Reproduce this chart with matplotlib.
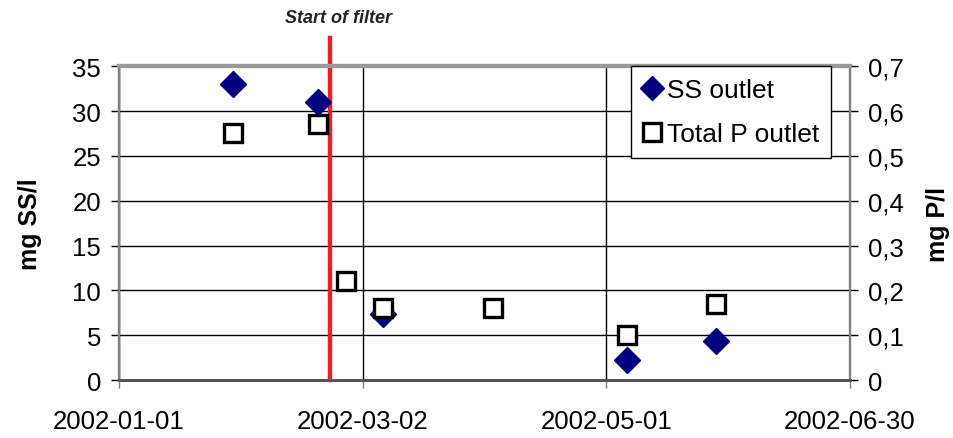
import matplotlib
matplotlib.use("Agg")
import matplotlib.pyplot as plt
import matplotlib.dates as mdates
import numpy as np

plt.rcParams['font.family'] = ['Liberation Sans', 'DejaVu Sans']

# data
ss_dates = np.array(['2002-01-29', '2002-02-19', '2002-03-07', '2002-05-06', '2002-05-28'], dtype='datetime64[D]')
ss_vals = [33.0, 31.0, 7.4, 2.2, 4.3]
p_dates = np.array(['2002-01-29', '2002-02-19', '2002-02-26', '2002-03-07',
                    '2002-04-03', '2002-05-06', '2002-05-28'], dtype='datetime64[D]')
p_vals = [0.55, 0.57, 0.22, 0.16, 0.16, 0.10, 0.17]
filter_start = np.datetime64('2002-02-22')
x_ticks = np.array(['2002-01-01', '2002-03-02', '2002-05-01', '2002-06-30'], dtype='datetime64[D]')
ss_ticks = [0, 5, 10, 15, 20, 25, 30, 35]
p_ticks = [0, 0.1, 0.2, 0.3, 0.4, 0.5, 0.6, 0.7]

fig = plt.figure(figsize=(9.54, 4.39), dpi=100)
ax = fig.add_axes([0.1247, 0.132, 0.7663, 0.715])
ax2 = ax.twinx()

ax.set_xlim(x_ticks[0], x_ticks[-1])
ax.set_ylim(0, 35)
ax2.set_ylim(0, 0.7)

ax.set_xticks(x_ticks)
ax.xaxis.set_major_formatter(mdates.DateFormatter('%Y-%m-%d'))
ax.set_yticks(ss_ticks)
ax2.set_yticks(p_ticks)
ax2.set_yticklabels([('%g' % v).replace('.', ',') for v in p_ticks])

ax.grid(True, color='black', linewidth=1.0)
ax.set_axisbelow(True)

gray = '#808080'
for a in (ax, ax2):
    for s in a.spines.values():
        s.set_color(gray)
        s.set_linewidth(1.6)
    a.spines['top'].set_linewidth(3.0)
    a.spines['top'].set_color('#999999')
    a.spines['bottom'].set_color('#555555')
    a.spines['bottom'].set_linewidth(2.0)
    a.tick_params(direction='out', length=6, width=1.0, color='black', labelsize=18.5, pad=7)
ax.tick_params(axis='x', color=gray, pad=15)

ax.axvline(filter_start, ymin=0, ymax=1.09, color='#e8202a', linewidth=3.2, clip_on=False, zorder=3)
ax.text(filter_start + np.timedelta64(2, 'D'), 40.4, 'Start of filter', ha='center', va='center',
        fontsize=13, fontweight='bold', fontstyle='italic', color='#222222')

h1, = ax.plot(ss_dates, ss_vals, linestyle='none', marker='D', markersize=13,
              color='#000080', label='SS outlet', zorder=4)
h2, = ax2.plot(p_dates, p_vals, linestyle='none', marker='s', markersize=13,
               markerfacecolor='white', markeredgecolor='black', markeredgewidth=2.4,
               label='Total P outlet', zorder=5)

ax.set_ylabel('mg SS/l', fontsize=18, fontweight='bold', labelpad=22)
ax2.set_ylabel('mg P/l', fontsize=18, fontweight='bold', labelpad=16)

leg = ax2.legend(handles=[h1, h2], loc='upper right', bbox_to_anchor=(0.974, 1.0),
                 borderaxespad=0, fontsize=19, fancybox=False, framealpha=1,
                 edgecolor='black', handlelength=0.7, handletextpad=0.2,
                 labelspacing=0.75, borderpad=0.45, markerscale=0.95)
leg.get_frame().set_linewidth(1.0)

fig.savefig('out.png', dpi=100)
